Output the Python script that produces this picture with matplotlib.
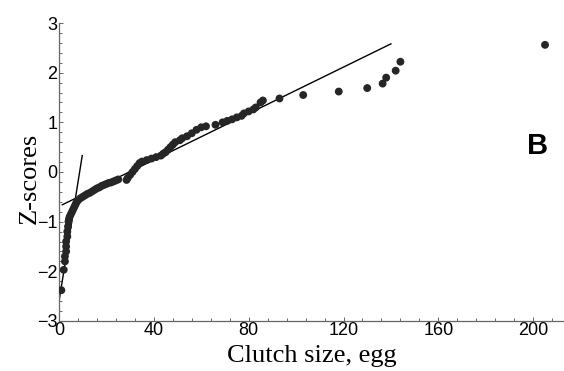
import matplotlib.pyplot as plt
from matplotlib.ticker import MultipleLocator

# clutch size (eggs) and Z-scores
clutch = [1, 2, 2.5, 2.5, 3, 3, 3, 3.5, 3.5, 3.8, 4, 4.2, 4.5, 5, 5.5, 6, 6.5, 7,
          7.5, 8, 9, 10, 11, 12, 13, 14, 15, 16, 17, 18, 19, 20, 21, 22, 23, 24, 25,
          28.5, 29, 30, 31, 32, 33, 34, 35, 37, 39, 41, 43, 44, 45, 46, 47, 48, 49,
          51, 52, 54, 56, 58, 60, 62, 66, 69, 71, 73, 75, 77, 78, 80, 82, 83, 85, 86,
          93, 103, 118, 130, 136.5, 138, 142, 144, 205]
zscore = [-2.38, -1.97, -1.8, -1.7, -1.6, -1.5, -1.4, -1.3, -1.2, -1.1, -1.0, -0.95,
          -0.9, -0.85, -0.8, -0.75, -0.7, -0.65, -0.6, -0.57, -0.53, -0.5, -0.47,
          -0.44, -0.42, -0.39, -0.36, -0.33, -0.31, -0.28, -0.26, -0.24, -0.22,
          -0.21, -0.19, -0.17, -0.15,
          -0.16, -0.12, -0.06, 0.0, 0.06, 0.12, 0.18, 0.21, 0.24, 0.27, 0.3, 0.33,
          0.37, 0.4, 0.45, 0.5, 0.55, 0.6, 0.64, 0.68, 0.72, 0.78, 0.85, 0.9, 0.92,
          0.95, 1.0, 1.03, 1.06, 1.1, 1.13, 1.18, 1.22, 1.26, 1.3, 1.4, 1.44,
          1.48, 1.55, 1.62, 1.69, 1.78, 1.9, 2.04, 2.22, 2.56]

# the two fitted lines
steep_x = [0, 9.8]
steep_y = [-2.61, 0.33]
flat_x = [1.4, 140]
flat_y = [-0.66, 2.58]

fig = plt.figure(figsize=(5.64, 3.71), dpi=100)
ax = fig.add_axes([0.1046, 0.1348, 0.8954, 0.8032])

ax.scatter(clutch, zscore, s=32, color='#262626', edgecolors='none', zorder=3)
ax.plot(steep_x, steep_y, color='black', lw=1)
ax.plot(flat_x, flat_y, color='black', lw=1)

ax.set_xlim(0, 213)
ax.set_ylim(-3, 3)
ax.xaxis.set_major_locator(MultipleLocator(40))
ax.xaxis.set_minor_locator(MultipleLocator(8))
ax.yaxis.set_major_locator(MultipleLocator(1))
ax.yaxis.set_minor_locator(MultipleLocator(0.2))

for s in ['top', 'right']:
    ax.spines[s].set_visible(False)
for s in ['left', 'bottom']:
    ax.spines[s].set_color('#666666')
    ax.spines[s].set_linewidth(0.9)

ax.tick_params(which='both', direction='in', color='#666666', width=0.7)
ax.tick_params(which='major', length=3, labelsize=13, pad=1)
ax.tick_params(which='minor', length=2)
for lab in ax.get_xticklabels() + ax.get_yticklabels():
    lab.set_family('Liberation Sans')

ax.set_xlabel('Clutch size, egg', family='Liberation Serif', fontsize=19)
ax.set_ylabel('Z-scores', family='Liberation Serif', fontsize=19)
ax.xaxis.set_label_coords(0.5, -0.082)
ax.yaxis.set_label_coords(-0.036, 0.48)

ax.text(0.947, 0.587, 'B', transform=ax.transAxes, family='Liberation Sans',
        fontsize=21, fontweight='bold', ha='center', va='center')

fig.savefig('out.png', dpi=100)
